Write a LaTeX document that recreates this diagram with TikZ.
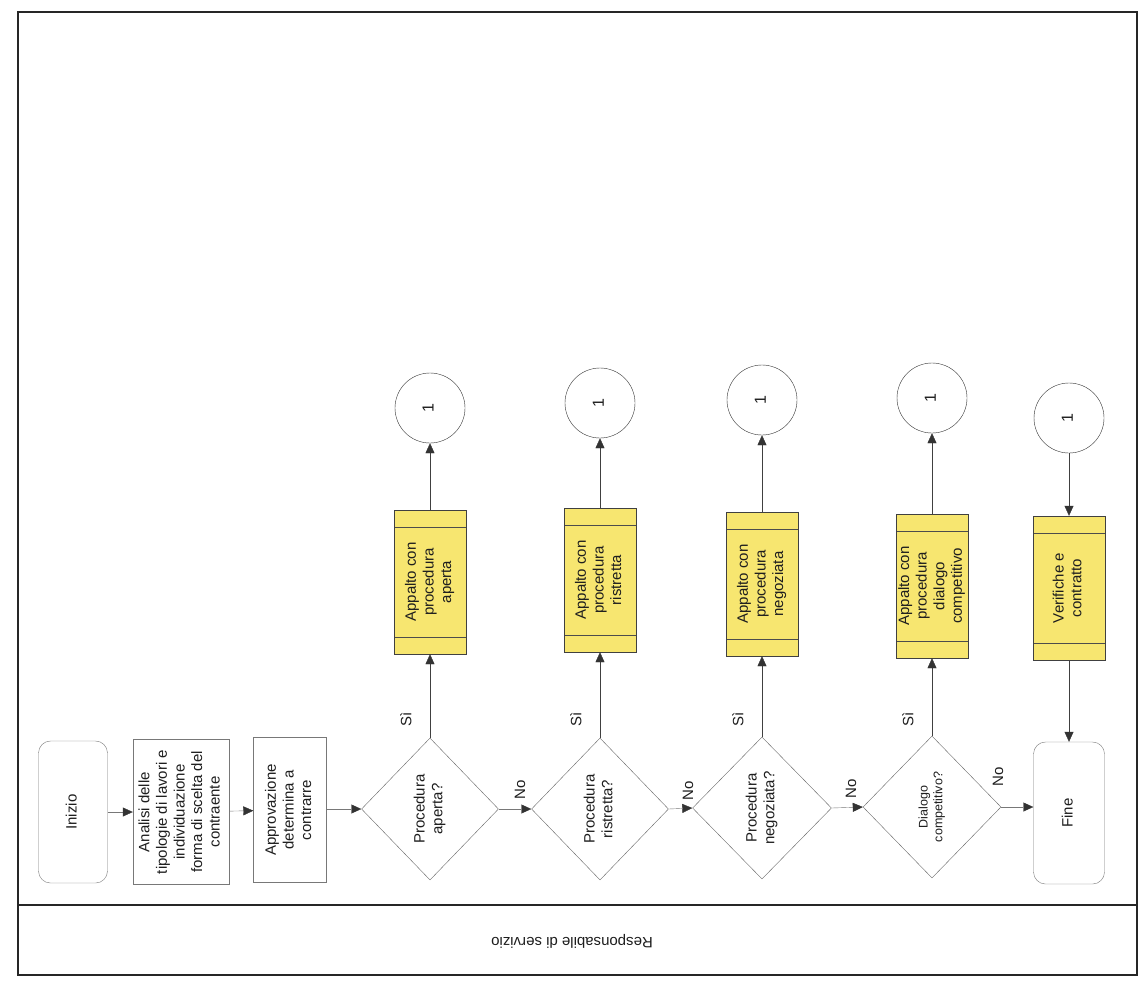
\documentclass[tikz,border=0pt]{standalone}
\usepackage{fontspec}
\setmainfont{Liberation Sans}
\usetikzlibrary{shapes.geometric,arrows.meta}
\definecolor{ybox}{RGB}{247,230,112}
\definecolor{lgray}{RGB}{120,120,120}
\definecolor{txt}{RGB}{30,30,30}
\newcommand{\rt}[2][15]{\rotatebox{90}{\fontsize{#1}{1.17\dimexpr#1pt\relax}\selectfont\begin{tabular}{@{}c@{}}#2\end{tabular}}}
\begin{document}
\begin{tikzpicture}[x=1pt,y=-1pt,text=txt,
  term/.style={draw=lgray,rounded corners=12pt,minimum width=69pt,minimum height=142pt,inner sep=0pt},
  proc/.style={draw=lgray,minimum height=145pt,inner sep=0pt},
  dec/.style={draw=black!60,diamond,minimum width=138pt,minimum height=142pt,inner sep=0pt},
  ybx/.style={draw=black!75,fill=ybox,minimum width=72pt,minimum height=144pt,inner sep=0pt,
    path picture={\draw[black!70] ([yshift=-17pt]path picture bounding box.north west) -- ([yshift=-17pt]path picture bounding box.north east);
      \draw[black!70] ([yshift=17pt]path picture bounding box.south west) -- ([yshift=17pt]path picture bounding box.south east);}},
  conn/.style={draw=black!80,circle,minimum size=70pt,inner sep=0pt},
  flow/.style={draw=lgray,-{Triangle[width=9pt,length=10pt,color=black!80]}},
  vflow/.style={draw=black!75,-{Triangle[width=9pt,length=10pt,color=black!80]}},
  lbl/.style={font=\fontsize{15}{17}\selectfont,rotate=90,inner sep=0pt}
]
\useasboundingbox (0,0) rectangle (1140,980);
\fill[white] (0,0) rectangle (1140,980);
% frame
\draw[line width=1.8pt,black!85] (18,12) rectangle (1137,975);
\draw[line width=1.8pt,black!85] (18,905) -- (1137,905);
\node[rotate=180,font=\fontsize{15}{17}\selectfont] (lane) at (572,941) {Responsabile di servizio};
% main flow
\node[term] (inizio) at (73,812) {\rt{Inizio}};
\node[proc,minimum width=96pt] (analisi) at (181,812) {\rt{Analisi delle\\tipologie di lavori e\\individuazione\\forma di scelta del\\contraente}};
\node[proc,minimum width=73pt] (approv) at (290,810) {\rt{Approvazione\\determina a\\contrarre}};
\node[dec,minimum width=137pt] (d1) at (430,809) {\rt{Procedura\\aperta?}};
\node[dec,minimum width=137pt] (d2) at (600,809) {\rt{Procedura\\ristretta?}};
\node[dec,minimum width=139pt] (d3) at (762,808) {\rt{Procedura\\negoziata?}};
\node[dec] (d4) at (932,807) {\rt[12.5]{Dialogo\\competitivo?}};
\node[term,minimum width=71pt] (fine) at (1069,813) {\rt{Fine}};
% yellow boxes
\node[ybx] (y1) at (430,582) {\rt{Appalto con\\procedura\\aperta}};
\node[ybx] (y2) at (600,580) {\rt{Appalto con\\procedura\\ristretta}};
\node[ybx] (y3) at (762,584) {\rt{Appalto con\\procedura\\negoziata}};
\node[ybx] (y4) at (932,586) {\rt{Appalto con\\procedura\\dialogo\\competitivo}};
\node[ybx] (y5) at (1069,588) {\rt{Verifiche e\\contratto}};
% connectors circles
\node[conn] (c1) at (430,408) {\rt[16]{1}};
\node[conn] (c2) at (600,403) {\rt[16]{1}};
\node[conn] (c3) at (762,400) {\rt[16]{1}};
\node[conn] (c4) at (932,398) {\rt[16]{1}};
\node[conn] (c5) at (1069,418) {\rt[16]{1}};
% horizontal arrows
\draw[flow] (inizio) -- (analisi);
\draw[flow] (analisi) -- (approv);
\draw[flow] (approv.east |- d1.west) -- (d1.west);
\draw[flow] (d1.east) -- (d2.west);
\draw[flow] (d2.east) -- (d3.west);
\draw[flow] (d3.east) -- (d4.west);
\draw[flow] (d4.east) -- (d4.east -| fine.west);
% vertical arrows
\draw[vflow] (d1.north) -- (y1.south);
\draw[vflow] (d2.north) -- (y2.south);
\draw[vflow] (d3.north) -- (y3.south);
\draw[vflow] (d4.north) -- (y4.south);
\draw[vflow] (y1.north) -- (c1.south);
\draw[vflow] (y2.north) -- (c2.south);
\draw[vflow] (y3.north) -- (c3.south);
\draw[vflow] (y4.north) -- (c4.south);
\draw[vflow] (c5.south) -- (y5.north);
\draw[vflow] (y5.south) -- (fine.north);
% labels
\node[lbl] (s1) at (406,719) {Sì};
\node[lbl] (s2) at (576,719) {Sì};
\node[lbl] (s3) at (738,719) {Sì};
\node[lbl] (s4) at (908,719) {Sì};
\node[lbl] (n1) at (520,790) {No};
\node[lbl] (n2) at (688,791) {No};
\node[lbl] (n3) at (851,789) {No};
\node[lbl] (n4) at (998,777) {No};
\end{tikzpicture}
\end{document}
